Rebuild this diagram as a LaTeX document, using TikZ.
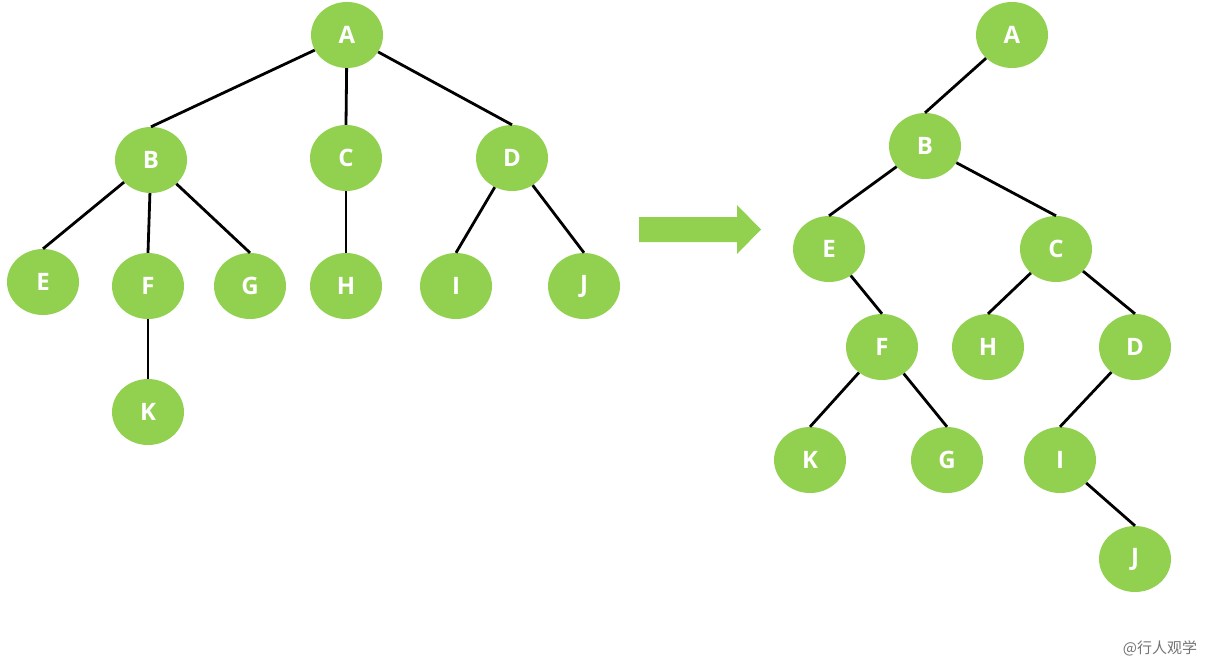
\documentclass[tikz,border=0pt]{standalone}
\usepackage{fontspec}
\setmainfont{Open Sans}
\newfontfamily\cjk{Noto Sans CJK SC}
\usetikzlibrary{shapes.geometric}
\definecolor{leafgreen}{HTML}{92D050}
\definecolor{markgray}{HTML}{737373}
\tikzset{
  tnode/.style={ellipse, fill=leafgreen, minimum width=72pt, minimum height=66pt, inner sep=0pt,
    text=white, font=\bfseries\fontsize{24}{26}\selectfont},
  edge/.style={line width=2.8pt, black},
}
\begin{document}
\begin{tikzpicture}[x=1pt,y=-1pt]
\useasboundingbox (0,0) rectangle (1210,666);
% left tree
\node[tnode] (lA) at (347,35) {A};
\node[tnode] (lB) at (151,160) {B};
\node[tnode] (lC) at (346,158) {C};
\node[tnode] (lD) at (512,158) {D};
\node[tnode] (lE) at (43,282) {E};
\node[tnode] (lF) at (148,286) {F};
\node[tnode] (lG) at (250,286) {G};
\node[tnode] (lH) at (346,286) {H};
\node[tnode] (lI) at (456,286) {I};
\node[tnode] (lJ) at (584,286) {J};
\node[tnode] (lK) at (148,412) {K};
\foreach \p/\c in {lA/lB,lA/lC,lA/lD,lB/lE,lB/lF,lB/lG,lC/lH,lD/lI,lD/lJ,lF/lK}
  \draw[edge] (\p) -- (\c.north);
% arrow
\fill[leafgreen] (639,217) -- (737,217) -- (737,205) -- (761,229.5) -- (737,254) -- (737,242) -- (639,242) -- cycle;
% right tree
\node[tnode] (rA) at (1012,35) {A};
\node[tnode] (rB) at (925,146) {B};
\node[tnode] (rE) at (829,249) {E};
\node[tnode] (rC) at (1056,249) {C};
\node[tnode] (rF) at (882,347) {F};
\node[tnode] (rH) at (988,347) {H};
\node[tnode] (rD) at (1135,347) {D};
\node[tnode] (rK) at (810,460) {K};
\node[tnode] (rG) at (947,460) {G};
\node[tnode] (rI) at (1060,460) {I};
\node[tnode] (rJ) at (1135,559) {J};
\foreach \p/\c in {rA/rB,rB/rE,rB/rC,rE/rF,rC/rH,rC/rD,rF/rK,rF/rG,rD/rI,rI/rJ}
  \draw[edge] (\p) -- (\c.north);
\node[text=markgray, font=\cjk\fontsize{15}{17}\selectfont] (mark) at (1160,648) {@行人观学};
\end{tikzpicture}
\end{document}
